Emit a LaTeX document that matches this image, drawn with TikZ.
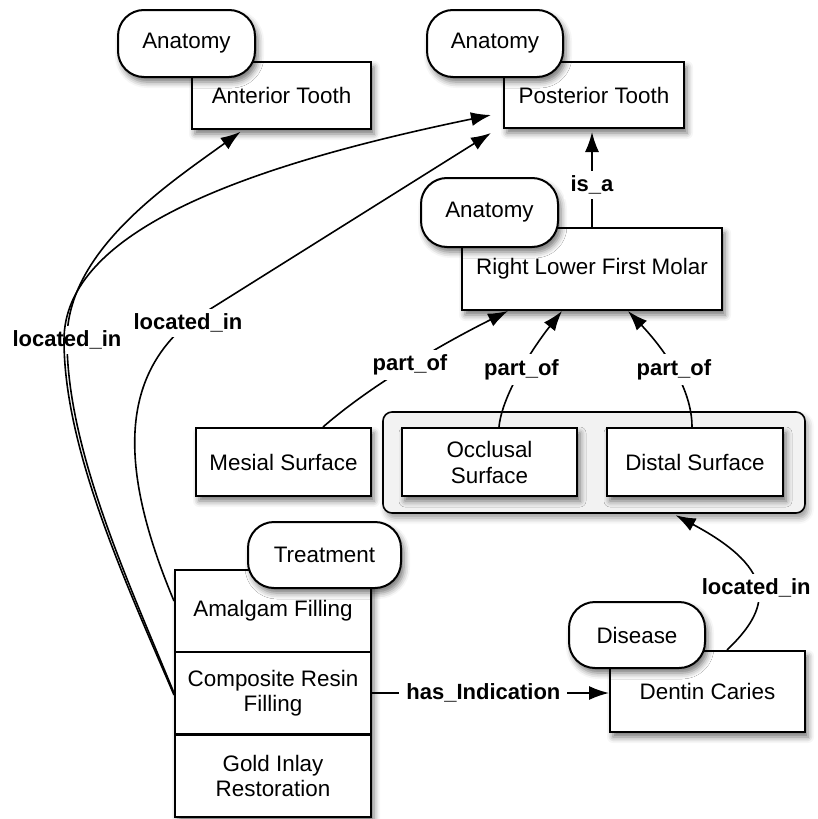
\documentclass[tikz,border=0pt]{standalone}
\usepackage{fontspec}
\setmainfont{Liberation Sans}
\usetikzlibrary{arrows.meta, positioning, shadows.blur}

\begin{document}
\begin{tikzpicture}[x=1pt, y=-1pt, >={Latex[length=20pt,width=14pt]}, line width=1.6pt,
    box/.style={draw, fill=white, line width=2pt, align=center, inner sep=0pt,
        font=\fontsize{22.4}{26}\selectfont,
        blur shadow={shadow xshift=3pt, shadow yshift=-5pt, shadow blur radius=6pt, shadow opacity=55}},
    cell/.style={draw, fill=white, line width=2pt, align=center, inner sep=0pt,
        font=\fontsize{22.4}{25}\selectfont, minimum width=196pt, minimum height=82pt},
    tag/.style={box, rounded corners=26pt},
    lbl/.style={fill=white, inner xsep=7pt, inner ysep=5pt, font=\fontsize{22}{26}\selectfont\bfseries}]
    \useasboundingbox (0,0) rectangle (818,819);

    % Group of surfaces
    \node[draw, fill=gray!10, rounded corners=9pt, minimum width=422pt, minimum height=101pt,
        blur shadow={shadow xshift=3pt, shadow yshift=-5pt, shadow blur radius=6pt, shadow opacity=40}] (grp) at (594,462.5) {};

    % Nodes
    \node[box, minimum width=179pt, minimum height=67pt] (ant) at (281.5,95.5) {Anterior Tooth};
    \node[box, minimum width=180pt, minimum height=66pt] (post) at (594,95) {Posterior Tooth};
    \node[box, minimum width=260pt, minimum height=82pt] (molar) at (592,269) {Right Lower First Molar};
    \node[box, minimum width=175pt, minimum height=68pt] (mesial) at (283.5,462) {Mesial Surface};
    \node[box, minimum width=175pt, minimum height=68pt] (occl) at (489.5,462) {Occlusal\\Surface};
    \node[box, minimum width=176pt, minimum height=68pt] (dist) at (695,462) {Distal Surface};
    \node[box, minimum width=196pt, minimum height=247pt] (stack) at (273,693.5) {};
    \node[cell] (amal) at (273,611) {Amalgam Filling};
    \node[cell] (comp) at (273,693) {Composite Resin\\Filling};
    \node[cell] (gold) at (273,775.5) {Gold Inlay\\Restoration};
    \node[box, minimum width=195pt, minimum height=81pt] (dentin) at (707.5,691.5) {Dentin Caries};

    % Tags
    \node[tag, minimum width=137pt, minimum height=67pt] (anat1) at (186.5,43.5) {Anatomy};
    \node[tag, minimum width=136pt, minimum height=67pt] (anat2) at (495,43.5) {Anatomy};
    \node[tag, minimum width=137pt, minimum height=69pt] (anat3) at (489.5,212.5) {Anatomy};
    \node[tag, minimum width=153pt, minimum height=66pt] (treat) at (324.5,555) {Treatment};
    \node[tag, minimum width=136pt, minimum height=66pt] (dis) at (637,635) {Disease};

    \coordinate (lft) at (67,340);

    % Arrows
    \draw[->, shorten >=3pt] (molar.north) -- node[lbl, pos=0.43] {is\_a} (molar.north |- post.south);
    \draw[->] ([xshift=39.5pt]mesial.north) .. controls +(40,-35) and +(-80,40) .. node[lbl, pos=0.55] {part\_of} ([xshift=-84pt]molar.south);
    \draw[->] ([xshift=9.5pt]occl.north) .. controls +(3,-33) and +(-27,34) .. node[lbl] {part\_of} ([xshift=-30pt]molar.south);
    \draw[->] ([xshift=-3pt]dist.north) .. controls +(0,-38) and +(37,39) .. node[lbl] {part\_of} ([xshift=36pt]molar.south);
    \draw[->, shorten >=3pt] ([xshift=19.5pt]dentin.north) .. controls +(43,-41) and +(107,57) .. node[lbl] {located\_in} ([xshift=79pt]grp.south);
    \draw[->] (comp.east) -- node[lbl, pos=0.47] {has\_Indication} (comp.east -| dentin.west);

    % located_in to the teeth
    \draw[->, shorten >=3pt] (comp.west) .. controls +(-45,-110) and +(0,110) .. (lft) node[lbl] {located\_in}
        .. controls +(0,-90) and +(-73,53) .. ([xshift=-38.5pt]ant.south);
    \draw[->] ([yshift=-2pt]comp.west) .. controls +(-47,-110) and +(0,110) .. ([xshift=-3pt]lft)
        .. controls +(0,-110) and +(-242,50) .. ([xshift=-12pt, yshift=-20pt]post.west);
    \draw[->] ([yshift=10pt]amal.west) .. controls +(-55,-131) and +(-68,57) .. (188,323) node[lbl] {located\_in}
        -- ([xshift=-12pt, yshift=-38pt]post.west);
\end{tikzpicture}
\end{document}
